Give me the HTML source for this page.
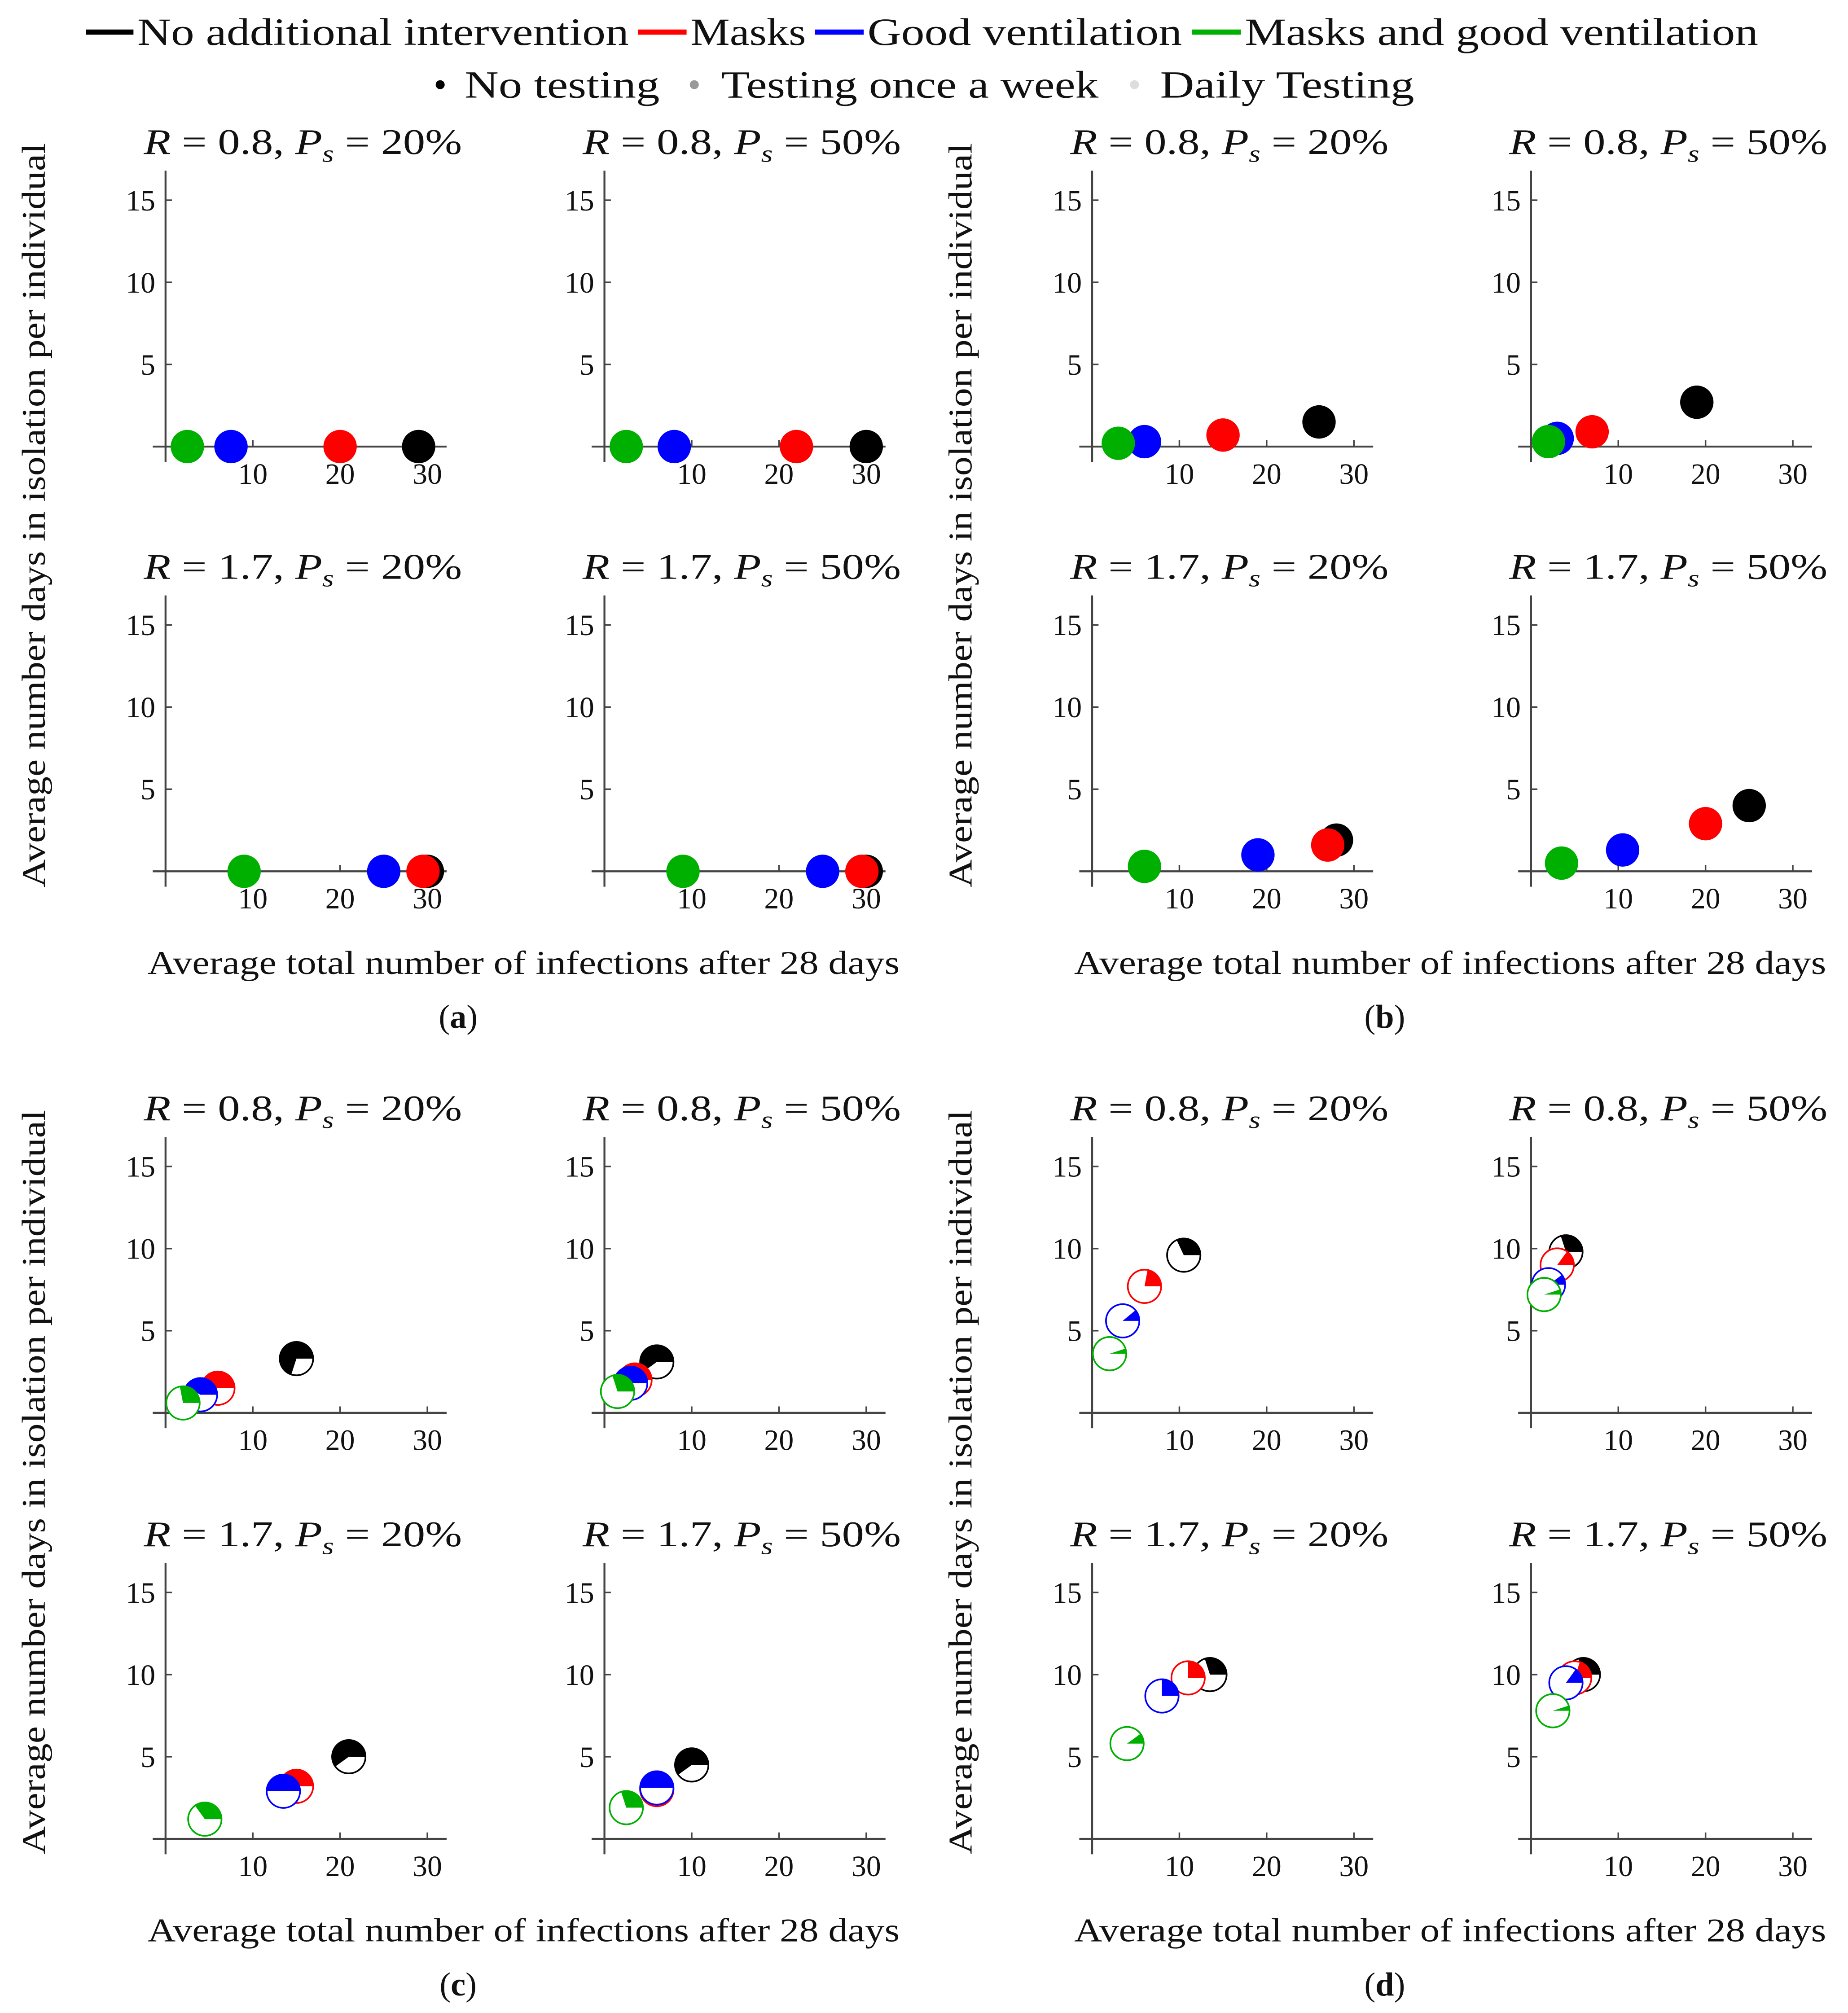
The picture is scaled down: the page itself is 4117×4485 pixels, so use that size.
<!DOCTYPE html>
<html><head><meta charset="utf-8"><style>
html,body{margin:0;padding:0;background:#fff}
svg{display:block}
text{font-family:"Liberation Serif",serif;fill:#111}
</style></head><body>
<svg id="fig" width="4117" height="4485" viewBox="0 0 1440 1568.7" xmlns="http://www.w3.org/2000/svg">
<g>
<line x1="67" y1="25" x2="104" y2="25" stroke="#000" stroke-width="4"/>
<text x="107" y="35" font-size="30" textLength="383" lengthAdjust="spacingAndGlyphs">No additional intervention</text>
<line x1="497" y1="25" x2="535" y2="25" stroke="#f00" stroke-width="4"/>
<text x="538" y="35" font-size="30" textLength="90" lengthAdjust="spacingAndGlyphs">Masks</text>
<line x1="635" y1="25" x2="673" y2="25" stroke="#00f" stroke-width="4"/>
<text x="676" y="35" font-size="30" textLength="245" lengthAdjust="spacingAndGlyphs">Good ventilation</text>
<line x1="929" y1="25" x2="967" y2="25" stroke="#00b000" stroke-width="4"/>
<text x="970" y="35" font-size="30" textLength="400" lengthAdjust="spacingAndGlyphs">Masks and good ventilation</text>
<circle cx="343" cy="66" r="3.5" fill="#000"/>
<text x="362" y="76" font-size="30" textLength="152" lengthAdjust="spacingAndGlyphs">No testing</text>
<circle cx="541" cy="66" r="3.5" fill="#999"/>
<text x="562" y="76" font-size="30" textLength="294" lengthAdjust="spacingAndGlyphs">Testing once a week</text>
<circle cx="884" cy="66" r="3.5" fill="#ddd"/>
<text x="904" y="76" font-size="30" textLength="198" lengthAdjust="spacingAndGlyphs">Daily Testing</text>
</g>
</svg>
<script>
// categories (order: black=No intervention, red=Masks, blue=Ventilation, green=Masks+ventilation)
const seriesNames = ['No additional intervention','Masks','Good ventilation','Masks and good ventilation'];
const seriesColors = ['#000000','#ff0000','#0000ff','#00b000'];
const panelTitles = [['0.8','20%'],['0.8','50%'],['1.7','20%'],['1.7','50%']];
const xTicks = [10,20,30];
const yTicks = [5,10,15];
const xA = [[29,20,7.5,2.5],[30,22,8,2.5],[30,29.5,25,9],[30,29.5,25,9]];
const yA = [[0,0,0,0],[0,0,0,0],[0,0,0,0],[0,0,0,0]];
const fA = [[1,1,1,1],[1,1,1,1],[1,1,1,1],[1,1,1,1]];
const xB = [[26,15,6,3],[19,7,3,2],[28,27,19,6],[25,20,10.5,3.5]];
const yB = [[1.5,0.7,0.3,0.2],[2.7,0.9,0.5,0.3],[1.9,1.6,1.0,0.3],[4.0,2.9,1.3,0.5]];
const fB = [[1,1,1,1],[1,1,1,1],[1,1,1,1],[1,1,1,1]];
const xC = [[15,6,4,2],[6,3.5,3,1.5],[21,15,13.5,4.5],[10,6,6,2.5]];
const yC = [[3.3,1.5,1.1,0.6],[3.1,2.0,1.8,1.3],[5.0,3.2,2.9,1.2],[4.5,3.0,3.1,1.9]];
const fC = [[0.7,0.5,0.42,0.28],[0.6,0.5,0.45,0.3],[0.6,0.5,0.5,0.35],[0.6,0.45,0.5,0.3]];
const xD = [[10.5,6,3.5,2],[4,3,2,1.5],[13.5,11,8,4],[6,5,4,2.5]];
const yD = [[9.6,7.7,5.6,3.6],[9.8,9.0,7.8,7.2],[10,9.8,8.7,5.8],[10,9.8,9.5,7.8]];
const fD = [[0.32,0.22,0.11,0.05],[0.3,0.15,0.1,0.05],[0.3,0.25,0.25,0.1],[0.3,0.2,0.15,0.05]];
const figLabels = ['a','b','c','d'];

const NS='http://www.w3.org/2000/svg';
const svg=document.getElementById('fig');
function mk(tag,attrs,parent){const e=document.createElementNS(NS,tag);for(const k in attrs)e.setAttribute(k,attrs[k]);(parent||svg).appendChild(e);return e;}
const XS=6.8, YS=12.8, R=13;
const figs=[
 {x:xA,y:yA,f:fA,ox:[129,471],oy:[348,679]},
 {x:xB,y:yB,f:fB,ox:[851,1193],oy:[348,679]},
 {x:xC,y:yC,f:fC,ox:[129,471],oy:[1101,1433]},
 {x:xD,y:yD,f:fD,ox:[851,1193],oy:[1101,1433]}
];
figs.forEach((F,fi)=>{
  const g=mk('g',{});
  
  
  for(let p=0;p<4;p++){
    const ox=F.ox[p%2], oy=F.oy[Math.floor(p/2)];
    const sx=v=>ox+v*XS, sy=v=>oy-v*YS;
    const sg=mk('g',{},sg0=g);
    
    
    const t=mk('text',{x:ox-17,y:oy-228,'font-size':28,textLength:248,lengthAdjust:'spacingAndGlyphs'},sg);
    
    
    t.innerHTML='<tspan font-style="italic">R</tspan> = '+panelTitles[p][0]+', <tspan font-style="italic">P</tspan><tspan font-style="italic" font-size="19" dy="6">s</tspan><tspan dy="-6"> = '+panelTitles[p][1]+'</tspan>';
    const ya=mk('line',{x1:ox,y1:oy-215,x2:ox,y2:oy+12,stroke:'#444','stroke-width':1.5},sg);
    
    
    const xa=mk('line',{x1:ox-10,y1:oy,x2:ox+219,y2:oy,stroke:'#444','stroke-width':1.5},sg);
    
    
    xTicks.forEach(v=>{
      mk('line',{x1:sx(v),y1:oy,x2:sx(v),y2:oy-5,stroke:'#444','stroke-width':1.2},sg);
      const l=mk('text',{x:sx(v),y:oy+29,'font-size':23,'text-anchor':'middle',fill:'#222'},sg);
      
      
      l.textContent=v;
    });
    yTicks.forEach(v=>{
      mk('line',{x1:ox,y1:sy(v),x2:ox+5,y2:sy(v),stroke:'#444','stroke-width':1.2},sg);
      const l=mk('text',{x:ox-8,y:sy(v)+8,'font-size':23,'text-anchor':'end',fill:'#222'},sg);
      
      
      l.textContent=v;
    });
    for(let s=0;s<4;s++){
      const cx=sx(F.x[p][s]), cy=sy(F.y[p][s]), fr=F.f[p][s], c=seriesColors[s];
      const mg=mk('g',{},sg);
      
      
      if(fr>=0.999){ mk('circle',{cx:cx,cy:cy,r:R,fill:c},mg); }
      else{
        mk('circle',{cx:cx,cy:cy,r:R,fill:'#fff',stroke:c,'stroke-width':1.3},mg);
        const a=2*Math.PI*fr, ex=cx+R*Math.cos(a), ey=cy-R*Math.sin(a);
        mk('path',{d:`M${cx},${cy} L${cx+R},${cy} A${R},${R} 0 ${fr>0.5?1:0} 0 ${ex},${ey} Z`,fill:c},mg);
      }
    }
  }
  const xl=mk('text',{x:F.ox[0]-14,y:F.oy[1]+80,'font-size':26,textLength:586,lengthAdjust:'spacingAndGlyphs'},g);
  
  
  xl.textContent='Average total number of infections after 28 days';
  const yl=mk('text',{x:-290,y:0,'font-size':26,textLength:580,lengthAdjust:'spacingAndGlyphs',transform:`translate(${F.ox[0]-94},${(F.oy[0]+F.oy[1])/2-112}) rotate(-90)`},g);
  
  
  yl.textContent='Average number days in isolation per individual';
  const fl=mk('text',{x:F.ox[0]+228,y:F.oy[1]+122,'font-size':26,'text-anchor':'middle'},g);
  
  
  fl.innerHTML='(<tspan font-weight="bold">'+figLabels[fi]+'</tspan>)';
});
</script>
</body></html>
